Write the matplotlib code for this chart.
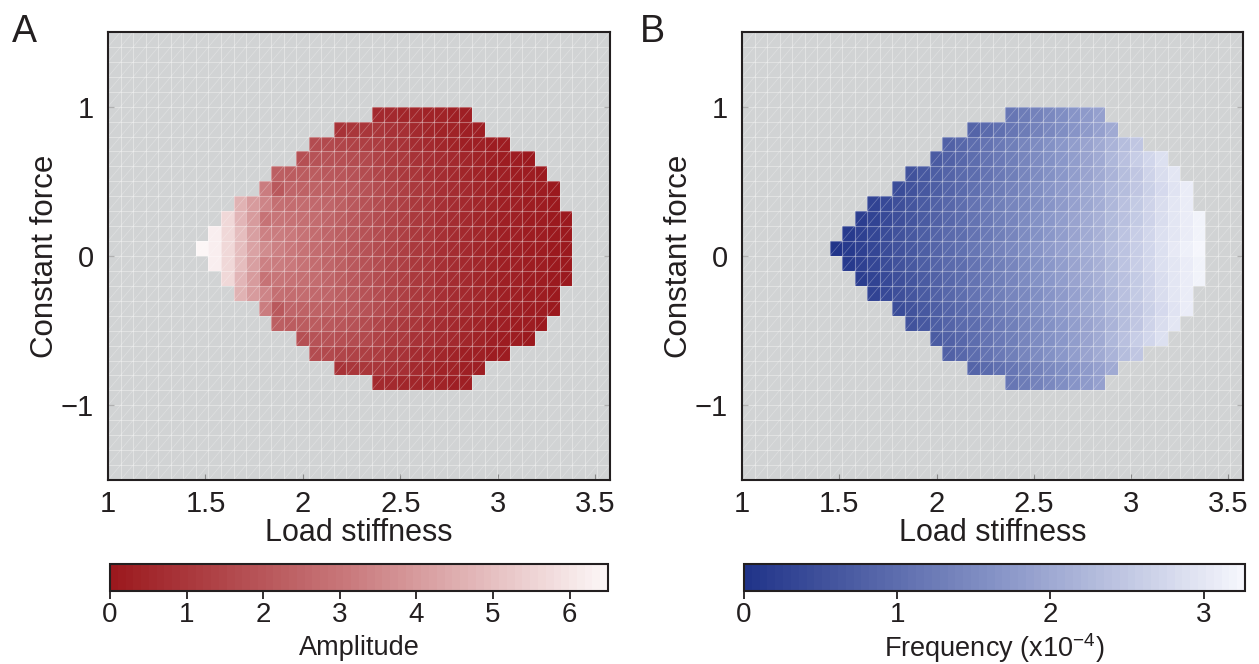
import numpy as np
import matplotlib
matplotlib.use("Agg")
import matplotlib.pyplot as plt
from matplotlib.colors import LinearSegmentedColormap
from matplotlib.collections import LineCollection

plt.rcParams['font.family'] = ['Liberation Sans', 'DejaVu Sans']

# Simulation grid (cell edges)
stiffness_edges = np.linspace(1.0, 3.575, 41)
force_edges = np.linspace(-1.5, 1.5, 31)

# Oscillating region, one row per force level (top to bottom).
# row_force: lower edge of the row; first_col: first oscillating stiffness cell
row_force = [0.9, 0.8, 0.7, 0.6, 0.5, 0.4, 0.3, 0.2, 0.1, 0.0,
             -0.1, -0.2, -0.3, -0.4, -0.5, -0.6, -0.7, -0.8, -0.9]
first_col = [21, 18, 16, 15, 13, 12, 10, 9, 8, 7, 8, 9, 10, 12, 13, 15, 16, 18, 21]

amplitude_rows = [
    [0.6, 0.55, 0.5, 0.45, 0.4, 0.35, 0.3, 0.3],
    [0.9, 1.0, 1.0, 0.95, 0.85, 0.75, 0.6, 0.5, 0.4, 0.35, 0.3, 0.25],
    [1.7, 1.6, 1.5, 1.4, 1.3, 1.15, 1.0, 0.85, 0.7, 0.6, 0.5, 0.4, 0.3, 0.25, 0.2, 0.15],
    [1.8, 1.9, 1.85, 1.8, 1.7, 1.55, 1.4, 1.2, 1.05, 0.9, 0.75, 0.65, 0.55, 0.45, 0.35, 0.3, 0.2, 0.15, 0.1],
    [2.3, 2.2, 2.2, 2.15, 2.1, 2.0, 1.85, 1.7, 1.5, 1.3, 1.1, 0.95, 0.8, 0.65, 0.55, 0.45, 0.35, 0.3, 0.25, 0.2, 0.15, 0.1],
    [3.2, 2.1, 2.5, 2.4, 2.35, 2.3, 2.2, 2.05, 1.9, 1.7, 1.5, 1.3, 1.1, 0.95, 0.8, 0.65, 0.55, 0.45, 0.35, 0.3, 0.25, 0.2, 0.15, 0.1],
    [4.6, 4.0, 3.4, 2.8, 2.7, 2.65, 2.55, 2.45, 2.3, 2.1, 1.9, 1.7, 1.5, 1.3, 1.1, 0.95, 0.8, 0.65, 0.55, 0.45, 0.35, 0.3, 0.25, 0.2, 0.15, 0.1],
    [5.6, 4.7, 4.0, 2.9, 3.0, 2.9, 2.8, 2.65, 2.5, 2.3, 2.1, 1.9, 1.7, 1.5, 1.3, 1.1, 0.95, 0.8, 0.65, 0.55, 0.45, 0.35, 0.3, 0.25, 0.2, 0.15, 0.1, 0.1],
    [6.2, 5.6, 4.9, 4.1, 3.3, 3.2, 3.1, 2.9, 2.7, 2.5, 2.3, 2.1, 1.9, 1.7, 1.5, 1.3, 1.1, 0.95, 0.8, 0.65, 0.55, 0.45, 0.35, 0.3, 0.25, 0.2, 0.15, 0.1, 0.1],
    [6.45, 6.2, 5.6, 4.9, 4.2, 3.6, 3.3, 3.1, 2.9, 2.7, 2.5, 2.3, 2.1, 1.9, 1.7, 1.5, 1.3, 1.1, 0.95, 0.8, 0.65, 0.55, 0.45, 0.35, 0.3, 0.25, 0.2, 0.15, 0.1, 0.1],
    [6.2, 5.6, 4.9, 4.1, 3.3, 3.2, 3.1, 2.9, 2.7, 2.5, 2.3, 2.1, 1.9, 1.7, 1.5, 1.3, 1.1, 0.95, 0.8, 0.65, 0.55, 0.45, 0.35, 0.3, 0.25, 0.2, 0.15, 0.1, 0.1],
    [5.6, 4.7, 4.0, 2.9, 3.0, 2.9, 2.8, 2.65, 2.5, 2.3, 2.1, 1.9, 1.7, 1.5, 1.3, 1.1, 0.95, 0.8, 0.65, 0.55, 0.45, 0.35, 0.3, 0.25, 0.2, 0.15, 0.1, 0.1],
    [4.6, 4.0, 3.4, 2.8, 2.7, 2.65, 2.55, 2.45, 2.3, 2.1, 1.9, 1.7, 1.5, 1.3, 1.1, 0.95, 0.8, 0.65, 0.55, 0.45, 0.35, 0.3, 0.25, 0.2, 0.15, 0.1],
    [3.2, 2.1, 2.5, 2.4, 2.35, 2.3, 2.2, 2.05, 1.9, 1.7, 1.5, 1.3, 1.1, 0.95, 0.8, 0.65, 0.55, 0.45, 0.35, 0.3, 0.25, 0.2, 0.15, 0.1],
    [2.3, 2.2, 2.2, 2.15, 2.1, 2.0, 1.85, 1.7, 1.5, 1.3, 1.1, 0.95, 0.8, 0.65, 0.55, 0.45, 0.35, 0.3, 0.25, 0.2, 0.15, 0.1],
    [1.8, 1.9, 1.85, 1.8, 1.7, 1.55, 1.4, 1.2, 1.05, 0.9, 0.75, 0.65, 0.55, 0.45, 0.35, 0.3, 0.2, 0.15, 0.1],
    [1.7, 1.6, 1.5, 1.4, 1.3, 1.15, 1.0, 0.85, 0.7, 0.6, 0.5, 0.4, 0.3, 0.25, 0.2, 0.15],
    [0.9, 1.0, 1.0, 0.95, 0.85, 0.75, 0.6, 0.5, 0.4, 0.35, 0.3, 0.25],
    [0.6, 0.55, 0.5, 0.45, 0.4, 0.35, 0.3, 0.3],
]

# Frequency in units of 1e-4
frequency_rows = [
    [1.15, 1.25, 1.35, 1.45, 1.55, 1.65, 1.75, 1.85],
    [0.85, 0.95, 1.05, 1.15, 1.25, 1.35, 1.45, 1.55, 1.65, 1.75, 1.85, 2.0],
    [0.8, 0.9, 1.0, 1.1, 1.2, 1.3, 1.4, 1.5, 1.6, 1.7, 1.8, 1.9, 2.0, 2.15, 2.3, 2.5],
    [0.7, 0.8, 0.9, 1.0, 1.1, 1.2, 1.3, 1.4, 1.5, 1.6, 1.7, 1.8, 1.9, 2.0, 2.2, 2.4, 2.6, 2.75, 2.9],
    [0.52, 0.62, 0.72, 0.82, 0.92, 1.02, 1.12, 1.22, 1.32, 1.42, 1.52, 1.62, 1.72, 1.82, 1.92, 2.02, 2.17, 2.32, 2.5, 2.67, 2.85, 3.0],
    [0.45, 0.55, 0.65, 0.75, 0.85, 0.95, 1.05, 1.15, 1.25, 1.35, 1.45, 1.55, 1.65, 1.75, 1.85, 1.95, 2.05, 2.2, 2.35, 2.5, 2.65, 2.8, 2.95, 3.1],
    [0.28, 0.38, 0.48, 0.58, 0.68, 0.78, 0.88, 0.98, 1.08, 1.18, 1.28, 1.38, 1.48, 1.58, 1.68, 1.78, 1.88, 1.98, 2.08, 2.22, 2.37, 2.52, 2.67, 2.82, 2.97, 3.1],
    [0.2, 0.3, 0.4, 0.5, 0.6, 0.7, 0.8, 0.9, 1.0, 1.1, 1.2, 1.3, 1.4, 1.5, 1.6, 1.7, 1.8, 1.9, 2.0, 2.1, 2.25, 2.4, 2.55, 2.7, 2.85, 2.98, 3.1, 3.18],
    [0.12, 0.22, 0.32, 0.42, 0.52, 0.62, 0.72, 0.82, 0.92, 1.02, 1.12, 1.22, 1.32, 1.42, 1.52, 1.62, 1.72, 1.82, 1.92, 2.02, 2.12, 2.27, 2.42, 2.57, 2.72, 2.87, 3.0, 3.1, 3.2],
    [0.0, 0.15, 0.25, 0.35, 0.45, 0.55, 0.65, 0.75, 0.85, 0.95, 1.05, 1.15, 1.25, 1.35, 1.45, 1.55, 1.65, 1.75, 1.85, 1.95, 2.05, 2.15, 2.3, 2.45, 2.6, 2.75, 2.9, 3.02, 3.12, 3.22],
    [0.12, 0.22, 0.32, 0.42, 0.52, 0.62, 0.72, 0.82, 0.92, 1.02, 1.12, 1.22, 1.32, 1.42, 1.52, 1.62, 1.72, 1.82, 1.92, 2.02, 2.12, 2.27, 2.42, 2.57, 2.72, 2.87, 3.0, 3.1, 3.2],
    [0.2, 0.3, 0.4, 0.5, 0.6, 0.7, 0.8, 0.9, 1.0, 1.1, 1.2, 1.3, 1.4, 1.5, 1.6, 1.7, 1.8, 1.9, 2.0, 2.1, 2.25, 2.4, 2.55, 2.7, 2.85, 2.98, 3.1, 3.18],
    [0.28, 0.38, 0.48, 0.58, 0.68, 0.78, 0.88, 0.98, 1.08, 1.18, 1.28, 1.38, 1.48, 1.58, 1.68, 1.78, 1.88, 1.98, 2.08, 2.22, 2.37, 2.52, 2.67, 2.82, 2.97, 3.1],
    [0.45, 0.55, 0.65, 0.75, 0.85, 0.95, 1.05, 1.15, 1.25, 1.35, 1.45, 1.55, 1.65, 1.75, 1.85, 1.95, 2.05, 2.2, 2.35, 2.5, 2.65, 2.8, 2.95, 3.1],
    [0.52, 0.62, 0.72, 0.82, 0.92, 1.02, 1.12, 1.22, 1.32, 1.42, 1.52, 1.62, 1.72, 1.82, 1.92, 2.02, 2.17, 2.32, 2.5, 2.67, 2.85, 3.0],
    [0.7, 0.8, 0.9, 1.0, 1.1, 1.2, 1.3, 1.4, 1.5, 1.6, 1.7, 1.8, 1.9, 2.0, 2.2, 2.4, 2.6, 2.75, 2.9],
    [0.8, 0.9, 1.0, 1.1, 1.2, 1.3, 1.4, 1.5, 1.6, 1.7, 1.8, 1.9, 2.0, 2.15, 2.3, 2.5],
    [0.85, 0.95, 1.05, 1.15, 1.25, 1.35, 1.45, 1.55, 1.65, 1.75, 1.85, 2.0],
    [1.15, 1.25, 1.35, 1.45, 1.55, 1.65, 1.75, 1.85],
]

x_ticks = [1, 1.5, 2, 2.5, 3, 3.5]
x_tick_labels = ['1', '1.5', '2', '2.5', '3', '3.5']
y_ticks = [-1, 0, 1]
y_tick_labels = ['\u22121', '0', '1']
amp_ticks = [0, 1, 2, 3, 4, 5, 6]
freq_ticks = [0, 1, 2, 3]
amp_max = 6.5
freq_max = 3.27

BG = '#d1d3d4'
INK = '#231f20'
W, H = 1259, 664

reds = LinearSegmentedColormap.from_list(
    'amp', [(0.0, '#9b191e'), (0.47, '#c8777a'), (1.0, '#fcf6f6')]).resampled(64)
blues = LinearSegmentedColormap.from_list(
    'freq', [(0.0, '#213489'), (0.5, '#8592c6'), (1.0, '#f5f6fc')]).resampled(64)


def to_grid(rows):
    z = np.full((len(force_edges) - 1, len(stiffness_edges) - 1), np.nan)
    step = force_edges[1] - force_edges[0]
    for y0, c0, vals in zip(row_force, first_col, rows):
        j = int(round((y0 - force_edges[0]) / step))
        z[j, c0:c0 + len(vals)] = vals
    return np.ma.masked_invalid(z)


def mesh_overlay(ax):
    for xe in stiffness_edges:
        ax.axvline(xe, color='white', alpha=0.35, lw=0.8, zorder=3)
    for ye in force_edges:
        ax.axhline(ye, color='white', alpha=0.35, lw=0.8, zorder=3)
    segs = []
    for i in range(len(stiffness_edges) - 1):
        for j in range(len(force_edges) - 1):
            segs.append([(stiffness_edges[i], force_edges[j]),
                         (stiffness_edges[i + 1], force_edges[j + 1])])
    ax.add_collection(LineCollection(segs, colors='white', alpha=0.3,
                                     linewidths=0.5, zorder=3))


fig = plt.figure(figsize=(W / 100, H / 100), dpi=100)

panels = [
    dict(left=108, right=610, cleft=110, cright=608,
         rows=amplitude_rows, cmap=reds, vmax=amp_max, cticks=amp_ticks,
         clabel='Amplitude', letter='A', lx=12),
    dict(left=742, right=1243, cleft=744, cright=1245,
         rows=frequency_rows, cmap=blues, vmax=freq_max, cticks=freq_ticks,
         clabel='Frequency (x10$^{\\mathregular{-4}}$)', letter='B', lx=640),
]

for p in panels:
    ax = fig.add_axes([p['left'] / W, 1 - 480 / H, (p['right'] - p['left']) / W, 448 / H])
    ax.set_facecolor(BG)
    z = to_grid(p['rows'])
    m = ax.pcolormesh(stiffness_edges, force_edges, z, cmap=p['cmap'],
                      vmin=0, vmax=p['vmax'], zorder=2)
    mesh_overlay(ax)
    ax.set_xlim(stiffness_edges[0], stiffness_edges[-1])
    ax.set_ylim(force_edges[0], force_edges[-1])
    ax.set_xticks(x_ticks)
    ax.set_xticklabels(x_tick_labels)
    ax.set_yticks(y_ticks)
    ax.set_yticklabels(y_tick_labels)
    ax.tick_params(direction='in', length=4, width=0.8, color='#888888',
                   labelsize=21, labelcolor=INK, top=False, right=True)
    ax.tick_params(axis='x', pad=7)
    ax.tick_params(axis='y', pad=10)
    for s in ax.spines.values():
        s.set_linewidth(1.5)
        s.set_color(INK)
        s.set_zorder(5)
    ax.set_xlabel('Load stiffness', fontsize=22, color=INK)
    ax.xaxis.set_label_coords(0.5, -0.085)
    ax.set_ylabel('Constant force', fontsize=22.5, color=INK)
    ax.yaxis.set_label_coords(-0.095, 0.5)
    fig.text(p['lx'] / W, 1 - 42 / H, p['letter'], fontsize=27, ha='left',
             va='baseline', color=INK)

    cax = fig.add_axes([p['cleft'] / W, 1 - 591 / H, (p['cright'] - p['cleft']) / W, 27 / H])
    cb = fig.colorbar(m, cax=cax, orientation='horizontal')
    cb.set_ticks(p['cticks'])
    cb.ax.tick_params(direction='out', length=6, width=1.3, labelsize=20, pad=2,
                      color=INK, labelcolor=INK)
    cb.outline.set_linewidth(1.5)
    cb.outline.set_edgecolor(INK)
    fig.text((p['cleft'] + p['cright']) / 2 / W, 1 - 648 / H, p['clabel'],
             fontsize=19.5, ha='center', va='center', color=INK)

fig.savefig('out.png', dpi=100)
